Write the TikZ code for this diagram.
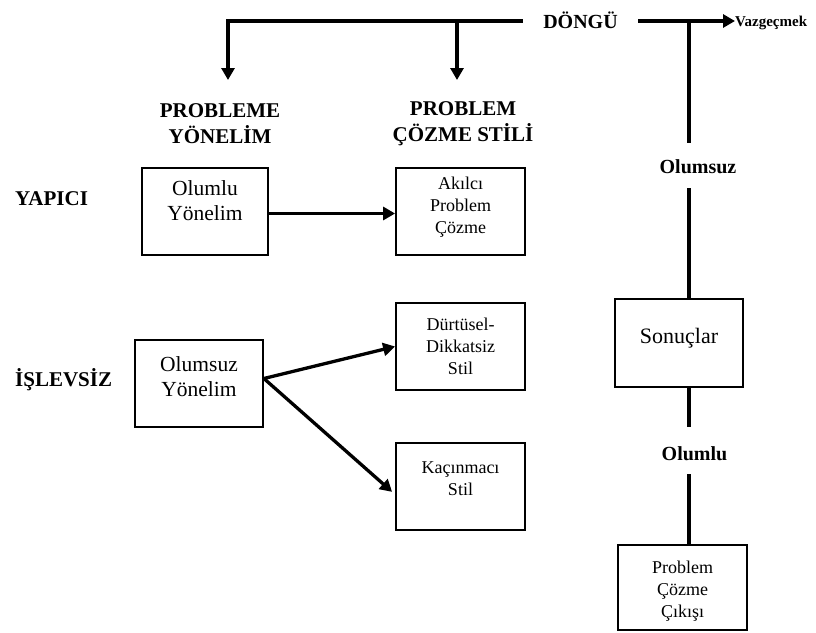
\documentclass[tikz,border=0pt]{standalone}
\usepackage{fontspec}
\setmainfont{Liberation Serif}
\usetikzlibrary{arrows.meta}
\newcommand\dn[1]{\rule[-#1]{0pt}{0pt}}
\newcommand\tp[1]{\rule{0pt}{#1}}
\begin{document}
\begin{tikzpicture}[x=1pt,y=-1pt,
  conn/.style={line width=3.3pt},
  arr/.style={conn,-{Triangle[length=12pt,width=13pt]}},
  box/.style={draw,line width=1.8pt,align=center,inner sep=0pt,minimum width=129pt,minimum height=87pt},
  big/.style={font=\fontsize{21.5}{25}\selectfont},
  small/.style={font=\fontsize{18}{22}\selectfont},
  head/.style={font=\fontsize{21}{26}\selectfont\bfseries,align=center,inner sep=0pt},
  side/.style={font=\fontsize{21}{25}\selectfont\bfseries,inner sep=0pt,anchor=base west},
  lab/.style={font=\fontsize{20}{24}\selectfont\bfseries,inner sep=0pt}]
\useasboundingbox (0,0) rectangle (816,632);

% headings
\node[head] (h1) at (220,123.5) {PROBLEME\\YÖNELİM};
\node[head] (h2) at (463,123.5) {PROBLEM\\ÇÖZME STİLİ};
\node[side] (yap) at (15,205) {YAPICI};
\node[side] (isl) at (15,386) {İŞLEVSİZ};

% boxes
\node[box,big,minimum width=126pt] (oly) at (205,211.5) {Olumlu\\Yönelim\dn{22pt}};
\node[box,small] (akl) at (460.5,211.5) {Akılcı\\Problem\\Çözme\dn{12pt}};
\node[box,small] (dur) at (460.5,346.5) {Dürtüsel-\\Dikkatsiz\\Stil};
\node[box,big,minimum width=128pt] (osy) at (199,383.5) {Olumsuz\\Yönelim\dn{14pt}};
\node[box,small] (kac) at (460.5,486.5) {Kaçınmacı\\Stil\dn{15pt}};
\node[box,font=\fontsize{22}{26}\selectfont,minimum width=128pt,minimum height=88pt] (son) at (679,343) {Sonuçlar\dn{14pt}};
\node[box,small,minimum height=85pt] (pcc) at (682.5,587.5) {\tp{20pt}Problem\\Çözme\\Çıkışı};

% top loop
\node[lab,anchor=base,inner xsep=20.5pt] (dng) at (580.5,28) {DÖNGÜ};
\node[font=\fontsize{15}{18}\selectfont\bfseries,anchor=base west,inner sep=0pt] (vaz) at (735,26) {Vazgeçmek};
\coordinate (j1) at (228,21);
\coordinate (j2) at (457,21);
\coordinate (j3) at (689,21);
\coordinate (t1) at (228,80);
\coordinate (t2) at (457,80);
\draw[arr] (j1 -| dng.west) -- (j1) -- (t1);
\draw[arr] (j2) -- (t2);
\draw[arr] (j1 -| dng.east) -- (vaz.west |- j1);

% right column
\coordinate (a1) at (689,143);
\coordinate (a2) at (689,188);
\coordinate (a3) at (689,427);
\coordinate (a4) at (689,474);
\node[lab,anchor=base] (oms) at (698,173) {Olumsuz};
\node[lab,anchor=base] (oml) at (694.5,460) {Olumlu};
\draw[conn] (j3) -- (a1);
\draw[conn] (a2) -- (a2 |- son.north);
\draw[conn] (a3 |- son.south) -- (a3);
\draw[conn] (a4) -- (a4 |- pcc.north);

% arrows between boxes
\draw[arr] ([yshift=-2pt]oly.east) -- ([yshift=-2pt]akl.west);
\draw[arr] ([yshift=5pt]osy.east) -- (dur.west);
\draw[arr,shorten >=4pt] ([yshift=5pt]osy.east) -- ([yshift=-8pt]kac.west);
\end{tikzpicture}
\end{document}
